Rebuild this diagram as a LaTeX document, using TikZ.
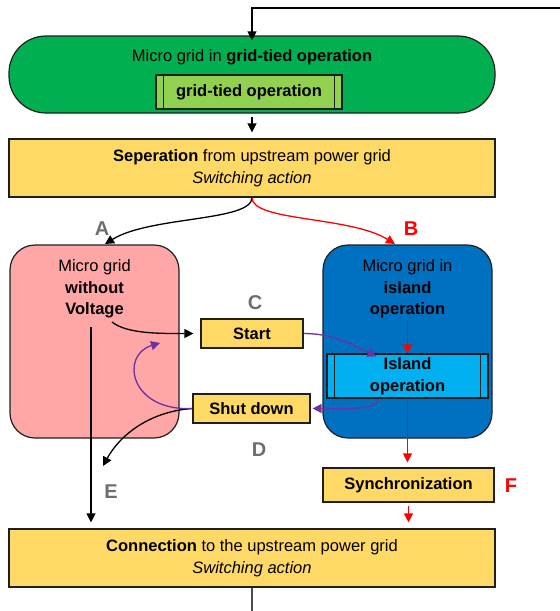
\documentclass[tikz,border=0pt]{standalone}
\usepackage{fontspec}
\setmainfont{Liberation Sans}
\usetikzlibrary{arrows.meta}
\usetikzlibrary{calc}

\definecolor{lineclr}{HTML}{1F1F1F}
\definecolor{gtgreen}{HTML}{00B050}
\definecolor{ltgreen}{HTML}{92D050}
\definecolor{boxyellow}{HTML}{FFD966}
\definecolor{boxpink}{HTML}{FFA6A6}
\definecolor{boxblue}{HTML}{0070C0}
\definecolor{ltblue}{HTML}{00B0F0}
\definecolor{arrpurple}{HTML}{7030A0}
\definecolor{lblgray}{HTML}{6E6E6E}

\newcommand{\boxfont}{\fontsize{16.5}{21.5}\selectfont}
\newcommand{\lblfont}{\fontsize{20}{24}\selectfont}

\begin{document}
\begin{tikzpicture}[x=1pt, y=-1pt,
    box/.style={draw=lineclr, line width=1.2pt, inner sep=0pt, align=center, font=\boxfont},
    txt/.style={align=center, font=\boxfont, inner sep=0pt},
    arr/.style={-{Triangle[length=9pt,width=9pt]}, line width=1.3pt},
    lbl/.style={font=\lblfont\bfseries, text=lblgray}]

    \useasboundingbox (0,0) rectangle (560,611);

    % Grid-tied state
    \node[box, fill=gtgreen, rounded corners=37pt, minimum width=486, minimum height=77] (tied) at (252,74.5) {};
    \node[txt] (tiedtxt) at (252,57) {Micro grid in \textbf{grid-tied operation}};
    \node[box, fill=ltgreen, minimum width=186, minimum height=34] (tiedop) at (249,92) {\textbf{grid-tied operation}};
    \draw[lineclr, line width=1.2pt] ($(tiedop.north west)+(8,0)$) -- ($(tiedop.south west)+(8,0)$);
    \draw[lineclr, line width=1.2pt] ($(tiedop.north east)+(-8,0)$) -- ($(tiedop.south east)+(-8,0)$);

    % Switching actions
    \node[box, fill=boxyellow, minimum width=486, minimum height=58] (sep) at (252,168)
        {\textbf{Seperation} from upstream power grid\\\textit{Switching action}};
    \node[box, fill=boxyellow, minimum width=486, minimum height=58] (conn) at (252,558)
        {\textbf{Connection} to the upstream power grid\\\textit{Switching action}};

    % Micro grid without voltage
    \node[box, fill=boxpink, rounded corners=25pt, minimum width=169, minimum height=193] (novolt) at (94.5,341.5) {};
    \node[txt] (novolttxt) at (94.5,289) {Micro grid\\\textbf{without}\\\textbf{Voltage}};

    % Micro grid in island operation
    \node[box, fill=boxblue, rounded corners=25pt, minimum width=169, minimum height=193] (island) at (407.5,341.5) {};
    \node[txt] (islandtxt) at (407.5,289) {Micro grid in\\\textbf{island}\\\textbf{operation}};
    \node[box, fill=ltblue, minimum width=161, minimum height=44] (islop) at (407.5,376) {\textbf{Island}\\\textbf{operation}};
    \draw[lineclr, line width=1.2pt] ($(islop.north west)+(8,0)$) -- ($(islop.south west)+(8,0)$);
    \draw[lineclr, line width=1.2pt] ($(islop.north east)+(-8,0)$) -- ($(islop.south east)+(-8,0)$);

    % Start, shut down, synchronization
    \node[box, fill=boxyellow, minimum width=102, minimum height=29] (start) at (252,333.5) {\textbf{Start}};
    \node[box, fill=boxyellow, minimum width=117, minimum height=29] (sdown) at (251.5,408.5) {\textbf{Shut down}};
    \node[box, fill=boxyellow, minimum width=171, minimum height=34] (sync) at (408.5,485) {\textbf{Synchronization}};

    % Labels
    \node[lbl] (la) at (102,229) {A};
    \node[lbl, text=red] (lb) at (411,229) {B};
    \node[lbl] (lc) at (255,303) {C};
    \node[lbl] (ld) at (259,450) {D};
    \node[lbl] (le) at (111,492) {E};
    \node[lbl, text=red] (lf) at (511,486) {F};

    % Free ends
    \coordinate (topin) at (560,8);
    \coordinate (botout) at (252,611);
    \coordinate (ina) at (105,244);
    \coordinate (inb) at (395,244);
    \coordinate (vtop) at (91,327);
    \coordinate (vstart) at (112,322);
    \coordinate (inpink) at (160,343);
    \coordinate (ine) at (103,466);

    % Black connectors
    \draw[arr] (topin) -- (252,8) -- ([yshift=-5pt]tied.north);
    \draw[arr, shorten <=3pt, shorten >=6pt] (tied.south) -- (sep.north);
    \draw[arr] (sep.south) .. controls +(0,24) and +(45,-28) .. (ina);
    \draw[arr, shorten >=7pt] (vstart) .. controls +(15,12) and +(-40,0) .. (start.west);
    \draw[arr, shorten >=6pt] (vtop) -- (vtop |- conn.north);
    \draw[arr] (sdown.west) .. controls +(-43,3) and +(17,-31) .. (ine);
    \draw[lineclr!80, line width=1.5pt] (conn.south) -- (botout);

    % Red connectors
    \draw[arr, red] (sep.south) .. controls +(0,24) and +(-45,-28) .. (inb);
    \draw[arr, red, shorten <=2pt] (islandtxt.south) -- (islop.north);
    \draw[arr, red, shorten >=5pt] (islop.south) -- (islop.south |- sync.north);
    \draw[arr, red, shorten <=3pt, shorten >=6pt] (sync.south) -- (sync.south |- conn.north);

    % Purple connectors
    \draw[arr, arrpurple] (start.east) .. controls +(30,0) and +(-25,-12) .. ([yshift=-3pt]islop.144);
    \draw[arr, arrpurple] (islop.219) .. controls +(-5,12) and +(35,0) .. ([xshift=2pt]sdown.east);
    \draw[arr, arrpurple] (sdown.west) .. controls +(-63,3) and +(-40,12) .. (inpink);

\end{tikzpicture}
\end{document}
